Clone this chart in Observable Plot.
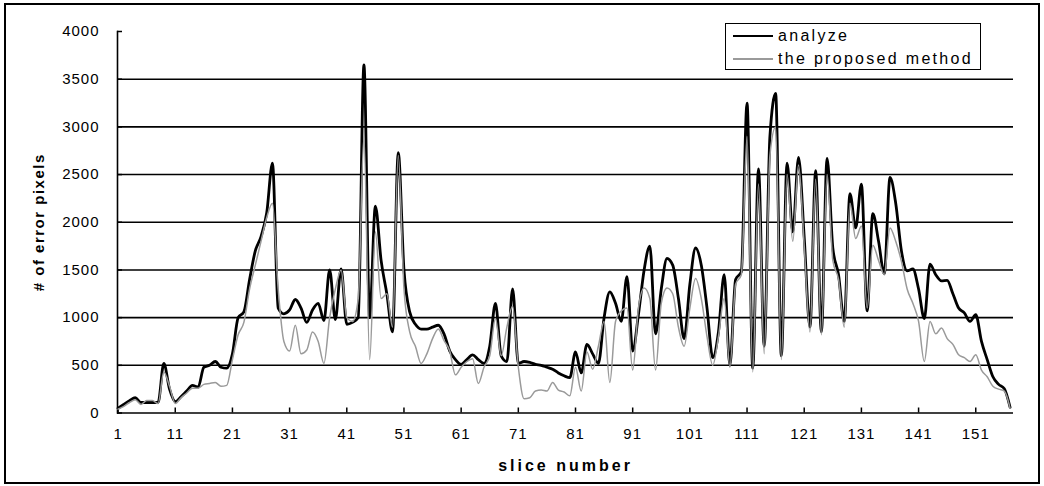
<!DOCTYPE html>
<html><head><meta charset="utf-8">
<script src="https://cdn.jsdelivr.net/npm/d3@7"></script>
<script src="https://cdn.jsdelivr.net/npm/@observablehq/plot@0.6"></script>
<style>
body{margin:0;background:#fff;}
#wrap{position:relative;width:1044px;height:486px;font-family:"Liberation Sans",Arial,sans-serif;overflow:hidden;}
#chart svg{display:block;}
#border{position:absolute;left:4px;top:3px;width:1036px;height:481px;border:2px solid #000;box-sizing:border-box;pointer-events:none;}
#legend{position:absolute;left:725px;top:23px;width:256px;height:47px;border:1.5px solid #000;box-sizing:border-box;background:#fff;}
#legend .row{position:absolute;left:0;height:20px;}
#legend .sw{position:absolute;left:7px;width:40px;}
#legend .lab{position:absolute;left:52px;top:0;font-size:16px;line-height:20px;letter-spacing:2.3px;white-space:nowrap;color:#000;}
</style></head>
<body>
<div id="wrap"><div id="chart"></div><div id="border"></div><div id="legend"></div></div>
<script>
const slices = d3.range(1, 158);
const analyze = [
  50, 90, 130, 160, 110, 110, 110, 110, 520, 250,
  120, 170, 230, 290, 270, 480, 500, 540, 480, 470,
  620, 1000, 1060, 1400, 1700, 1850, 2100, 2620, 1100, 1040,
  1080, 1190, 1100, 950, 1080, 1150, 970, 1500, 980, 1510,
  930, 950, 1000, 3650, 1000, 2170, 1600, 1250, 850, 2730,
  1500, 1060, 930, 880, 880, 900, 920, 830, 650, 560,
  510, 560, 610, 560, 520, 700, 1150, 600, 540, 1300,
  520, 540, 530, 510, 500, 480, 460, 420, 390, 370,
  640, 420, 720, 620, 520, 1000, 1270, 1150, 960, 1430,
  650, 1030, 1500, 1750, 830, 1300, 1620, 1550, 1200, 780,
  1350, 1730, 1550, 1100, 580, 850, 1450, 500, 1400, 1480,
  3250, 470, 2560, 700, 2900, 3350, 600, 2620, 1900, 2680,
  1840, 900, 2540, 850, 2670, 1730, 1450, 960, 2300, 1940,
  2400, 1070, 2090, 1800, 1460, 2470, 2200, 1700, 1490, 1510,
  1300, 990, 1560, 1450, 1385, 1390, 1250, 1100, 1050, 960,
  1030, 750, 560, 380, 300, 255, 60
];
const proposed = [
  40, 70, 110, 140, 90, 130, 130, 100, 430, 280,
  100, 160, 210, 260, 260, 300, 310, 320, 280, 290,
  560, 820, 950, 1300, 1550, 1800, 2050, 2200, 1300, 750,
  650, 920, 620, 660, 850, 750, 520, 1000, 1300, 1500,
  1000, 960, 1200, 2900, 560, 1900, 1200, 1250, 900, 2700,
  1300, 850, 700, 520, 620, 780, 880, 760, 650, 400,
  480, 540, 570, 310, 480, 600, 990, 600, 900, 1120,
  480, 150, 160, 230, 240, 230, 320, 240, 220, 180,
  480, 230, 640, 460, 700, 960, 320, 960, 1070, 1100,
  450, 1100, 1310, 1200, 450, 1150, 1310, 1250, 900, 700,
  1100, 1410, 1200, 800, 500, 800, 1200, 480, 1350, 1450,
  2900, 430, 2400, 620, 2700, 3000, 560, 2500, 1800, 2600,
  1750, 850, 2450, 820, 2500, 1600, 1400, 900, 2200, 1830,
  1960, 1100, 1760, 1600, 1450, 1940, 1800, 1590, 1300, 1150,
  960, 540, 960, 830, 890, 780, 720, 610, 580, 540,
  610, 450, 380, 280, 250, 230, 50
];
const yTicks = [0, 500, 1000, 1500, 2000, 2500, 3000, 3500, 4000];
const gridValues = [500, 1000, 1500, 2000, 2500, 3000, 3500];
const xTicks = [1, 11, 21, 31, 41, 51, 61, 71, 81, 91, 101, 111, 121, 131, 141, 151];
const seriesNames = ["analyze", "the proposed method"];
const seriesColors = ["#000000", "#9a9a9a"];
const seriesWidths = [2.8, 1.5];

const rowsA = slices.map((s, i) => ({slice: s, value: analyze[i]}));
const rowsP = slices.map((s, i) => ({slice: s, value: proposed[i]}));

const chart = Plot.plot({
  width: 1044, height: 486,
  marginLeft: 117, marginRight: 31, marginTop: 31, marginBottom: 73.5,
  x: {domain: [0.9, 157.6]},
  y: {domain: [0, 4000]},
  style: {fontFamily: "Liberation Sans, Arial, sans-serif", color: "#000", background: "transparent"},
  marks: [
    Plot.ruleY(gridValues, {stroke: "#000", strokeWidth: 1.6}),
    Plot.axisY({ticks: yTicks, tickSize: 0, tickPadding: 18, fontSize: 15, tickFormat: d => String(d),
      label: "# of error pixels", labelAnchor: "center", labelOffset: 84, labelArrow: "none"}),
    Plot.axisY({ticks: yTicks, tickSize: -5, tickFormat: () => "", label: null, strokeWidth: 1.5}),
    Plot.axisX({ticks: xTicks, tickSize: 0, tickPadding: 15, fontSize: 15, tickFormat: d => String(d),
      label: "slice number", labelAnchor: "center", labelOffset: 58, labelArrow: "none"}),
    Plot.axisX({ticks: xTicks, tickSize: -5, tickFormat: () => "", label: null, strokeWidth: 1.5}),
    Plot.frame({anchor: "left", strokeWidth: 1.6}),
    Plot.ruleY([0], {strokeWidth: 1.6}),
    Plot.lineY(rowsA, {x: "slice", y: "value", stroke: seriesColors[0], strokeWidth: seriesWidths[0], curve: "monotone-x"}),
    Plot.lineY(rowsP, {x: "slice", y: "value", stroke: seriesColors[1], strokeWidth: seriesWidths[1], curve: "monotone-x"})
  ]
});
document.getElementById("chart").appendChild(chart);

d3.select(chart).selectAll('[aria-label="x-axis label"] text')
  .style("font-weight", "bold").style("font-size", "16px").style("letter-spacing", "3px");
d3.select(chart).selectAll('[aria-label="y-axis label"] text')
  .style("font-weight", "bold").style("font-size", "15px").style("letter-spacing", "1.5px");
d3.select(chart).selectAll('[aria-label="x-axis tick label"] text, [aria-label="y-axis tick label"] text')
  .style("letter-spacing", "1px");

const legend = d3.select("#legend");
seriesNames.forEach((name, i) => {
  const row = legend.append("div").attr("class", "row").style("top", (2 + i * 23) + "px").style("width", "100%");
  row.append("div").attr("class", "sw")
    .style("top", (10 - seriesWidths[i] / 2) + "px")
    .style("height", seriesWidths[i] + "px")
    .style("background", seriesColors[i]);
  row.append("div").attr("class", "lab").text(name);
});
</script>
</body></html>
